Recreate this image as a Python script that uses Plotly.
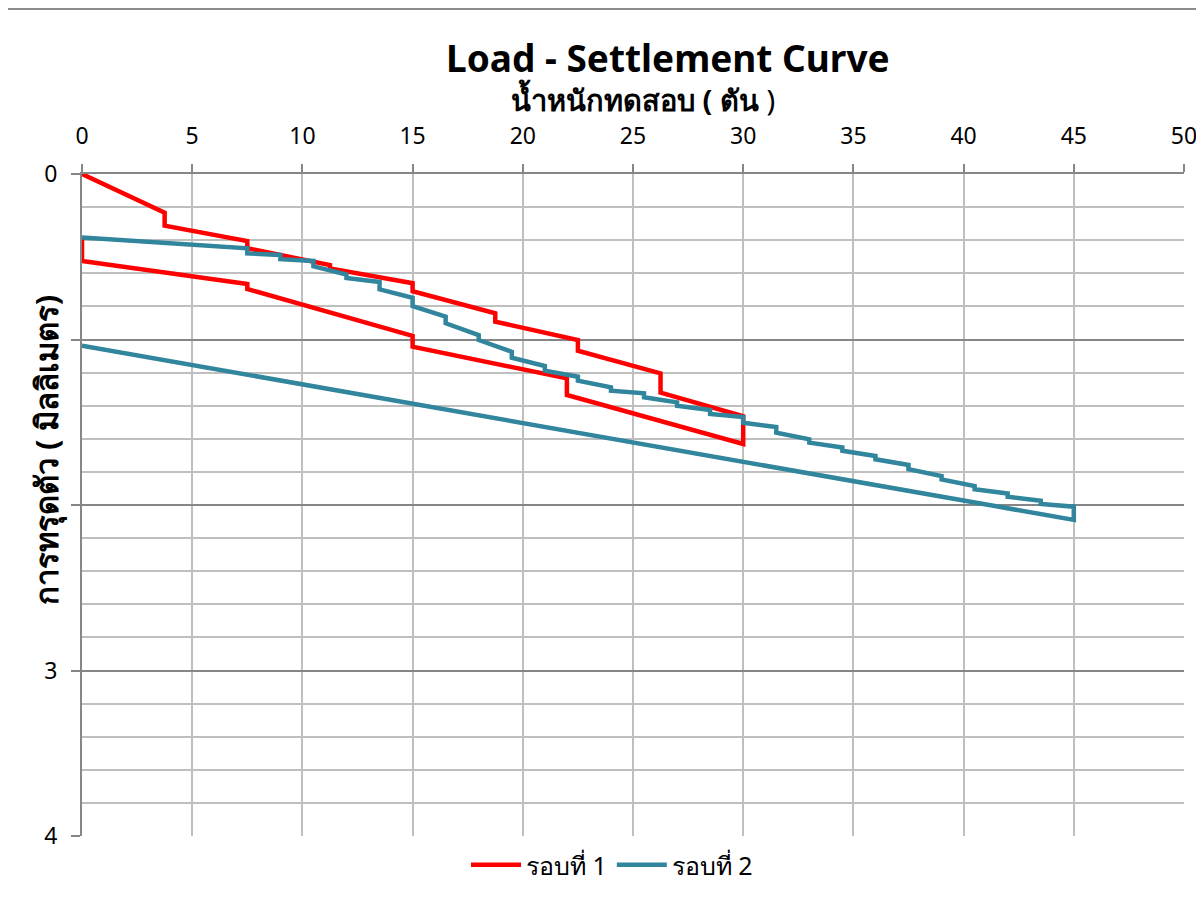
"""Load - settlement curve, two loading cycles (x axis on top, y reversed)."""

import plotly.graph_objects as go

# --- data ---
load_1 = [0, 3.75, 3.75, 7.5, 7.5, 11.25, 11.25, 15, 15, 18.75, 18.75, 22.5, 22.5,
          26.25, 26.25, 30, 30, 22, 22, 15, 15, 7.5, 7.5, 0, 0]
settle_1 = [0, 0.234, 0.312, 0.405, 0.449, 0.55, 0.57, 0.66, 0.708, 0.842, 0.892,
            1.003, 1.068, 1.205, 1.321, 1.464, 1.631, 1.335, 1.235, 1.043, 0.978,
            0.695, 0.665, 0.526, 0.383]

load_2 = [0, 7.5, 7.5, 9, 9, 10.5, 10.5, 12, 12, 13.5, 13.5, 15, 15, 16.5, 16.5,
          18, 18, 19.5, 19.5, 21, 21, 22.5, 22.5, 24, 24, 25.5, 25.5, 27, 27,
          28.5, 28.5, 30, 30, 31.5, 31.5, 33, 33, 34.5, 34.5, 36, 36, 37.5, 37.5,
          39, 39, 40.5, 40.5, 42, 42, 43.5, 43.5, 45, 45, 0]
settle_2 = [0.383, 0.449, 0.48, 0.489, 0.515, 0.525, 0.558, 0.608, 0.628, 0.653,
            0.697, 0.748, 0.798, 0.862, 0.902, 0.973, 1.003, 1.074, 1.11, 1.16,
            1.188, 1.225, 1.249, 1.289, 1.309, 1.325, 1.349, 1.38, 1.40, 1.426,
            1.45, 1.468, 1.503, 1.529, 1.563, 1.603, 1.623, 1.652, 1.672, 1.704,
            1.724, 1.758, 1.784, 1.825, 1.845, 1.885, 1.905, 1.93, 1.95, 1.974,
            1.994, 2.01, 2.09, 1.037]

series_names = ["รอบที่ 1", "รอบที่ 2"]
x_ticks = list(range(0, 55, 5))
y_ticks = [0, 1, 2, 3, 4]
y_tick_text = ["0", "", "", "3", "4"]

FONT = "'Noto Sans', 'DejaVu Sans', sans-serif"

# page px -> paper coords (plot area: x 82..1184, y 174..836 on the page)
def px(x):
    return (x - 82) / 1102


def py(y):
    return (836 - y) / 662


fig = go.Figure()
fig.add_trace(go.Scatter(x=load_1, y=settle_1, mode="lines", name=series_names[0],
                         line=dict(color="#FF0000", width=4.5)))
fig.add_trace(go.Scatter(x=load_2, y=settle_2, mode="lines", name=series_names[1],
                         line=dict(color="#31859C", width=4.5)))

# chart border (outer frame)
fig.add_shape(type="rect", xref="paper", yref="paper",
              x0=px(5), x1=px(1220), y0=py(910), y1=py(9),
              line=dict(color="#8C8C8C", width=2), fillcolor="rgba(0,0,0,0)",
              layer="below")

# title + axis titles
fig.add_annotation(text="<b>Load - Settlement Curve</b>", xref="paper", yref="paper",
                   x=px(668), y=py(58), xanchor="center", yanchor="middle",
                   showarrow=False, font=dict(size=37, color="black", family=FONT))
fig.add_annotation(text="<b>น้ำหนักทดสอบ ( ตัน</b> )", xref="paper", yref="paper",
                   x=px(643), y=py(99), xanchor="center", yanchor="middle",
                   showarrow=False, font=dict(size=29, color="black", family=FONT))
fig.add_annotation(text="<b>การทรุดตัว ( มิลลิเมตร)</b>", xref="paper", yref="paper",
                   x=px(46), y=py(450), xanchor="center", yanchor="middle",
                   textangle=-90, showarrow=False,
                   font=dict(size=31, color="black", family=FONT))

# the page body has an 8px margin: shift everything up/left by 8px
fig.update_layout(
    width=1196, height=890,
    margin=dict(l=74, r=20, t=166, b=62, autoexpand=False),
    paper_bgcolor="white", plot_bgcolor="white",
    font=dict(family=FONT, size=23, color="black"),
    showlegend=True,
    legend=dict(orientation="h", x=px(612), xanchor="center", y=py(865), yanchor="middle",
                font=dict(size=25), itemwidth=50),
    xaxis=dict(side="top", range=[0, 50], tickvals=x_ticks,
               showgrid=True, gridcolor="#BFBFBF", gridwidth=1.5,
               showline=True, linecolor="#868686", linewidth=2,
               ticks="outside", ticklen=8, tickcolor="#868686", tickwidth=1.5,
               ticklabelstandoff=11, ticklabeloverflow="allow", zeroline=False),
    yaxis=dict(range=[4, 0], tickvals=y_ticks, ticktext=y_tick_text,
               showgrid=True, gridcolor="#868686", gridwidth=1.5,
               minor=dict(dtick=0.2, showgrid=True, gridcolor="#BFBFBF", gridwidth=1.5),
               showline=True, linecolor="#868686", linewidth=2,
               ticks="outside", ticklen=9, tickcolor="#868686", tickwidth=1.5,
               ticklabelstandoff=9, ticklabeloverflow="allow", zeroline=False),
)

fig.write_html("out.html")
